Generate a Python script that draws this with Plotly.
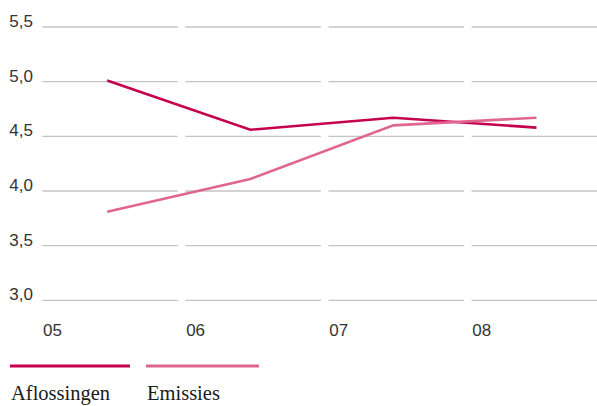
import plotly.graph_objects as go

# ---- data ----
years = ["05", "06", "07", "08"]
series_names = ["Aflossingen", "Emissies"]
aflossingen = [5.01, 4.56, 4.67, 4.58]
emissies = [3.81, 4.11, 4.60, 4.67]
y_ticks = [3.0, 3.5, 4.0, 4.5, 5.0, 5.5]

colors = ["#C5004E", "#E0668F"]

W, H = 597, 406
ML, MR, MT, MB = 38, 0, 21, 100
PW, PH = W - ML - MR, H - MT - MB
CAT_PX = 143.1
pos = [i + 0.48 for i in range(len(years))]          # point sits mid-category
x_range = [-0.5 / CAT_PX, -0.5 / CAT_PX + PW / CAT_PX]
y_range = [2.9479, 5.5549]
gap = 3.8 / CAT_PX


def px_x(p):
    return (p - ML) / PW


def px_y(p):
    return (H - MB - p) / PH


fig = go.Figure()
for name, vals, col in zip(series_names, [aflossingen, emissies], colors):
    fig.add_trace(go.Scatter(x=pos, y=vals, mode="lines", name=name,
                             line=dict(color=col, width=2.6),
                             showlegend=False, hoverinfo="skip"))

# horizontal gridlines, split at category boundaries
shapes = []
for t in y_ticks:
    for i in range(len(years)):
        shapes.append(dict(type="line", xref="x", yref="y",
                           x0=i + gap, x1=i + 1 - gap, y0=t, y1=t,
                           line=dict(color="#C4C4C4", width=1.3),
                           layer="below"))

# custom legend: line above label
legend_px = [(10, 130), (146, 259)]
annotations = []
for (x0, x1), name, col in zip(legend_px, series_names, colors):
    shapes.append(dict(type="line", xref="paper", yref="paper",
                       x0=px_x(x0), x1=px_x(x1), y0=px_y(366), y1=px_y(366),
                       line=dict(color=col, width=3)))
    annotations.append(dict(text=name, xref="paper", yref="paper",
                            x=px_x(x0 - 1), y=px_y(380), xanchor="left",
                            yanchor="top", showarrow=False,
                            font=dict(family="Liberation Serif", size=20.5,
                                      color="#1a1a1a")))

fig.update_layout(
    width=W, height=H,
    margin=dict(l=ML, r=MR, t=MT, b=MB, pad=0),
    paper_bgcolor="white", plot_bgcolor="white",
    separators=",.",
    shapes=shapes, annotations=annotations,
    font=dict(family="Liberation Sans", size=17, color="#333333"),
)
fig.update_xaxes(range=x_range, tickvals=list(range(len(years))), ticktext=years,
                 showgrid=False, zeroline=False, showline=False, ticks="",
                 ticklabelshift=14, ticklabelstandoff=12,
                 tickfont=dict(family="Liberation Sans", size=17, color="#333333"))
fig.update_yaxes(range=y_range, tickvals=y_ticks, tickformat=".1f",
                 showgrid=False, zeroline=False, showline=False, ticks="",
                 ticklabelshift=-6, ticklabelstandoff=4,
                 tickfont=dict(family="Liberation Sans", size=17, color="#333333"))

fig.write_html("out.html")
